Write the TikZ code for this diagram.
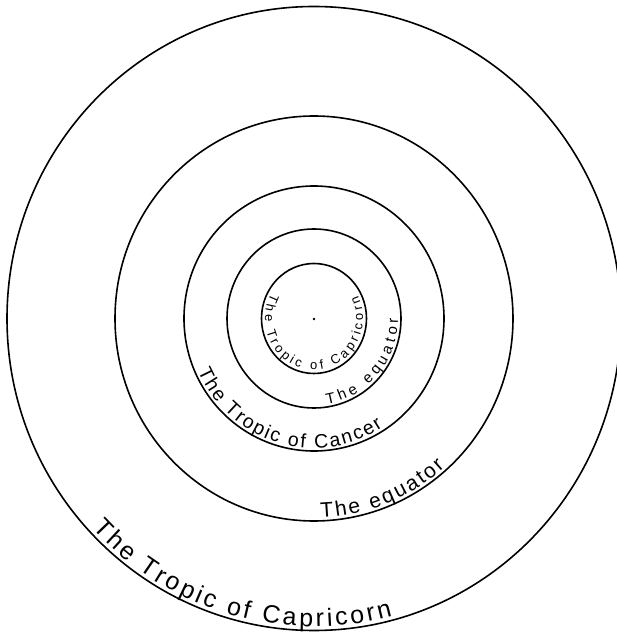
\documentclass[tikz,border=0pt]{standalone}
\usepackage{fontspec}
\setmainfont{Liberation Sans}
\usetikzlibrary{decorations.text}
\begin{document}
\begin{tikzpicture}[x=1pt,y=1pt,
  ring/.style={line width=1.6pt},
  dot/.style={fill=black}]
\useasboundingbox (0,0) rectangle (617,633);
\coordinate (C) at (314,314.5);
% concentric rings
\draw[ring] (C) ellipse[x radius=307, y radius=312];
\draw[ring] (C) ellipse[x radius=199, y radius=202.5];
\draw[ring] (C) ellipse[x radius=130, y radius=132.5];
\draw[ring] (C) ellipse[x radius=87, y radius=89.5];
\draw[ring] (C) ellipse[x radius=52.5, y radius=55];
\fill[dot] (314,314) circle[radius=1.3];
% labels
\path[decorate, decoration={text along path, text align={fit to path},
  text={|\fontsize{13}{15}\selectfont|The Tropic of Capricorn}}]
  (C) ++(151:49 and 51.5) arc[start angle=151, end angle=386, x radius=49, y radius=51.5];
\path[decorate, decoration={text along path, text align={fit to path},
  text={|\fontsize{15}{17}\selectfont|The equator}}]
  (C) ++(279:84 and 86.5) arc[start angle=279, end angle=360, x radius=84, y radius=86.5];
\path[decorate, decoration={text along path, text align={fit to path},
  text={|\fontsize{19.5}{21}\selectfont|The Tropic of Cancer}}]
  (C) ++(204:127 and 129.5) arc[start angle=204, end angle=303, x radius=127, y radius=129.5];
\path[decorate, decoration={text along path, text align={fit to path},
  text={|\fontsize{21}{23}\selectfont|The equator}}]
  (C) ++(272:196 and 199.5) arc[start angle=272, end angle=312, x radius=196, y radius=199.5];
\path[decorate, decoration={text along path, text align={fit to path},
  text={|\fontsize{25}{27}\selectfont|The Tropic of Capricorn}}]
  (C) ++(223:303 and 308) arc[start angle=223, end angle=285, x radius=303, y radius=308];
\end{tikzpicture}
\end{document}
